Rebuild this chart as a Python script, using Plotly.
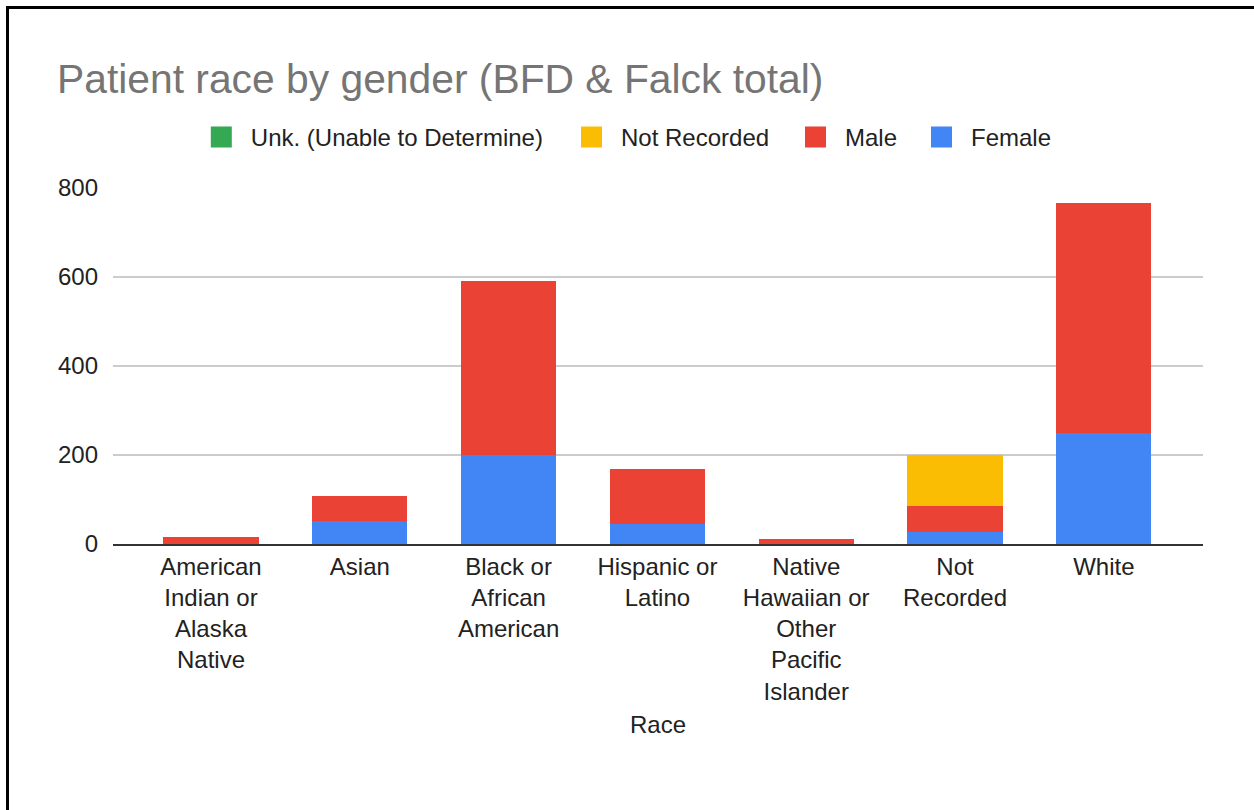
import plotly.graph_objects as go

categories = [
    "American<br>Indian or<br>Alaska<br>Native",
    "Asian",
    "Black or<br>African<br>American",
    "Hispanic or<br>Latino",
    "Native<br>Hawaiian or<br>Other<br>Pacific<br>Islander",
    "Not<br>Recorded",
    "White",
]
female = [0, 52, 200, 45, 0, 26, 249]
male = [16, 56, 391, 123, 12, 59, 517]
not_recorded = [0, 0, 0, 0, 0, 115, 0]
unk = [0, 0, 0, 0, 0, 0, 0]

series = [
    ("Female", female, "#4285F4"),
    ("Male", male, "#EA4335"),
    ("Not Recorded", not_recorded, "#FBBC04"),
    ("Unk. (Unable to Determine)", unk, "#34A853"),
]

W, H = 1254, 810
L, R, T, B = 113, 1203, 188, 544  # plot area pixels

def px_x(p):
    return (p - L) / (R - L)

def px_y(p):
    return (B - p) / (B - T)

FONT = "Liberation Sans, Arial, sans-serif"

fig = go.Figure()
for name, vals, col in series:
    fig.add_trace(go.Bar(x=categories, y=vals, name=name, marker_color=col,
                         marker_line_width=0, showlegend=False, legendgroup=name))

# legend entries: one legend per entry so spacing matches the reference
legend_names = ["legend", "legend2", "legend3", "legend4"]
swatch_centers = [221.3, 591.5, 815.5, 941.5]
legend_layout = {}
for i, (name, vals, col) in enumerate(reversed(series)):
    fig.add_trace(go.Scatter(x=[None], y=[None], mode="markers", name=name,
                             marker=dict(symbol="square", size=24, color=col,
                                         line=dict(color=col, width=6)),
                             legendgroup=name, showlegend=True,
                             legend=legend_names[i]))
    legend_layout[legend_names[i]] = dict(
        orientation="h", x=px_x(swatch_centers[i] - 29.5), xanchor="left",
        y=px_y(137.5), yanchor="middle", itemwidth=49,
        font=dict(family=FONT, size=24, color="#222222"),
        bgcolor="rgba(0,0,0,0)")

fig.update_layout(
    width=W, height=H,
    margin=dict(l=L, r=W - R, t=T, b=H - B, autoexpand=False),
    paper_bgcolor="white", plot_bgcolor="white",
    barmode="stack", bargap=0.36,
    font=dict(family=FONT, size=24, color="#222222"),
    title=dict(text="Patient race by gender (BFD & Falck total)",
               font=dict(family=FONT, size=40.8, color="#757575"),
               xref="container", yref="container",
               x=57 / W, xanchor="left", y=1 - 79 / H, yanchor="middle"),
    xaxis=dict(categoryorder="array", categoryarray=categories,
               range=[-0.6586, 6.6665], showgrid=False,
               showline=True, linecolor="#333333", linewidth=2,
               ticks="", ticklabelstandoff=0, automargin=False,
               tickfont=dict(family=FONT, size=24, color="#222222"),
               title=dict(text="Race", standoff=13,
                          font=dict(family=FONT, size=24, color="#222222"))),
    yaxis=dict(range=[0, 800], dtick=200, showgrid=True,
               gridcolor="#cccccc", gridwidth=1.5, zeroline=False,
               ticks="", ticklabelstandoff=14, automargin=False,
               tickfont=dict(family=FONT, size=24, color="#222222")),
    shapes=[
        dict(type="line", xref="paper", yref="paper",
             x0=px_x(7.5), x1=px_x(7.5), y0=px_y(6), y1=px_y(812),
             line=dict(color="black", width=3)),
        dict(type="line", xref="paper", yref="paper",
             x0=px_x(6), x1=px_x(1256), y0=px_y(7.5), y1=px_y(7.5),
             line=dict(color="black", width=3)),
    ],
    **legend_layout,
)

fig.write_html("out.html")
